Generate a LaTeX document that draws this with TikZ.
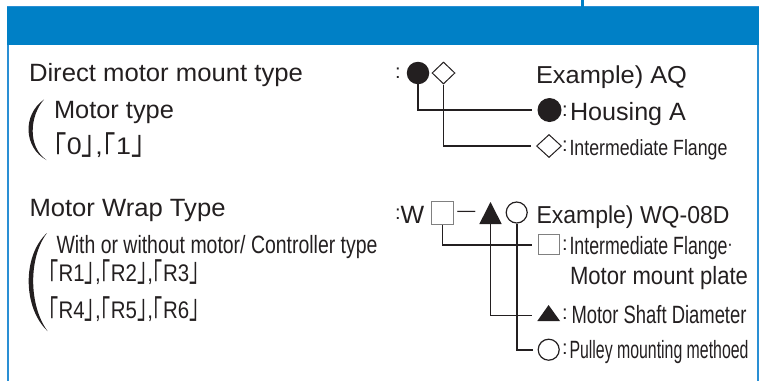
\documentclass[tikz,border=0pt]{standalone}
\usepackage{fontspec}
\usepackage{graphicx}
\setmainfont{Liberation Sans}
\newfontfamily\cjk{Noto Sans CJK JP}
\usetikzlibrary{shapes.geometric}
\definecolor{band}{HTML}{0080C6}
\definecolor{edge}{HTML}{2A8FD4}
\definecolor{ink}{HTML}{231F20}
\definecolor{sqgray}{HTML}{808080}
\newcommand{\fitt}[3]{{\fontsize{#1}{#1}\selectfont\resizebox{#2pt}{\height}{#3}}}
\newcommand{\lbk}{\smash{\raisebox{-0.3em}{\scalebox{1}[1.42]{\cjk ｢}}}}
\newcommand{\rbk}{\smash{\scalebox{1}[1.42]{\cjk ｣}}}
\begin{document}
\begin{tikzpicture}[x=1pt,y=-1pt,
  txt/.style={anchor=base west,inner sep=0pt,outer sep=0pt,text=ink},
  colonmark/.style={anchor=base west,inner sep=0pt,outer sep=0pt,text=ink,font=\fontsize{20}{20}\selectfont},
  conn/.style={draw=ink,line width=1.6pt},
  dot/.style={circle,fill=ink,inner sep=0pt},
  ring/.style={circle,draw=ink,line width=1.2pt,inner sep=0pt},
  dia/.style={diamond,aspect=1,draw=ink,line width=1pt,inner sep=0pt},
  sq/.style={rectangle,draw=sqgray,line width=1pt,inner sep=0pt},
  brace/.style={fill=ink}]
\useasboundingbox (0,0) rectangle (766,381);
% frame
\fill[band] (7,6) rectangle (759,45);
\draw[edge,line width=1pt] (7,6.5) -- (759,6.5);
\fill[band] (580.5,0) rectangle (584,7);
\draw[edge,line width=2pt] (8,45) -- (8,381);
\draw[edge,line width=2pt] (758,45) -- (758,381);

% ---- left column
\node[txt] (t1) at (29,81.7) {\fitt{25}{274}{Direct motor mount type}};
\fill[brace] (44,99.5) .. controls (22,115) and (24,148) .. (46.5,160)
   .. controls (27.5,147) and (29.5,116) .. (44,99.5) -- cycle;
\node[txt] (t2) at (54,118.3) {\fitt{25}{120}{Motor type}};
\node[txt] (t3) at (53.5,154.3) {\fitt{24}{91}{\lbk 0\rbk,\lbk 1\rbk}};

\node[txt] (t4) at (29.5,216.7) {\fitt{25}{196}{Motor Wrap Type}};
\fill[brace] (47,233) .. controls (22,256) and (23,308) .. (47.5,331)
   .. controls (29,306) and (28,258) .. (47,233) -- cycle;
\node[txt] (t5) at (56.5,253.3) {\fitt{25}{321}{With or without motor/ Controller type}};
\node[txt] (t6) at (48.5,281.7) {\fitt{24}{151}{\lbk R1\rbk,\lbk R2\rbk,\lbk R3\rbk}};
\node[txt] (t7) at (48.5,318.3) {\fitt{24}{151}{\lbk R4\rbk,\lbk R5\rbk,\lbk R6\rbk}};

% ---- upper right: direct motor mount code
\node[colonmark] (c0) at (395,78) {:};
\node[dot,minimum size=22.5pt] (tA) at (418,73) {};
\node[dia,minimum width=23pt,minimum height=22pt] (tB) at (443.5,73) {};
\node[txt] (ex1) at (536,83.3) {\fitt{24.5}{151}{Example) AQ}};

\node[dot,minimum size=24pt] (rA) at (549.5,110) {};
\node[colonmark] (c1) at (562,116) {:};
\node[txt] (l1) at (570,120) {\fitt{25}{116}{Housing A}};

\node[dia,minimum width=25pt,minimum height=23pt] (rB) at (549,146) {};
\node[colonmark] (c2) at (562,151.5) {:};
\node[txt] (l2) at (569.5,155.3) {\fitt{22}{158}{Intermediate Flange}};

\draw[conn,shorten >=5.5pt] (tA.south) |- (rA.west);
\draw[conn,shorten >=5pt] (tB.south) |- (rB.west);

% ---- lower right: motor wrap code
\node[colonmark] (c3) at (395,219) {:};
\node[txt] (w) at (400.5,223.3) {\fontsize{25}{25}\selectfont W};
\node[sq,minimum width=22pt,minimum height=23pt] (tS) at (442.3,212.8) {};
\node[txt] (dash) at (457.3,216.5) {\fitt{18}{18}{—}};
\fill[ink] (479.3,224) -- (490.5,202) -- (501.7,224) -- cycle;
\coordinate (tC) at (490.5,224);
\node[ring,minimum size=21pt] (tO) at (516.7,212.5) {};
\node[txt] (ex2) at (536.5,223.3) {\fitt{24.5}{193}{Example) WQ-08D}};

\node[sq,minimum width=21pt,minimum height=20pt] (rS) at (548.5,244.7) {};
\node[colonmark] (c4) at (562,250.5) {:};
\node[txt] (l3) at (569.5,254) {\fitt{25}{163}{Intermediate Flange\raisebox{3pt}{$\cdot$}}};
\node[txt] (l4) at (570,284.7) {\fitt{25}{178}{Motor mount plate}};

\fill[ink] (537.3,321) -- (548.6,305) -- (560,321) -- cycle;
\coordinate (rC) at (537.3,315.3);
\node[colonmark] (c5) at (562,319) {:};
\node[txt] (l5) at (571.5,323) {\fitt{25}{175}{Motor Shaft Diameter}};

\node[ring,minimum size=21pt] (rO) at (548.7,349.7) {};
\node[colonmark] (c6) at (562,354) {:};
\node[txt] (l6) at (569.5,358) {\fitt{25}{179}{Pulley mounting methoed}};

\draw[conn,shorten >=6pt] (tS.south) |- (rS.west);
\draw[conn,shorten >=5.6pt] (tC) |- (rC);
\draw[conn,shorten >=5pt] (tO.south) |- (rO.west);
\end{tikzpicture}
\end{document}
